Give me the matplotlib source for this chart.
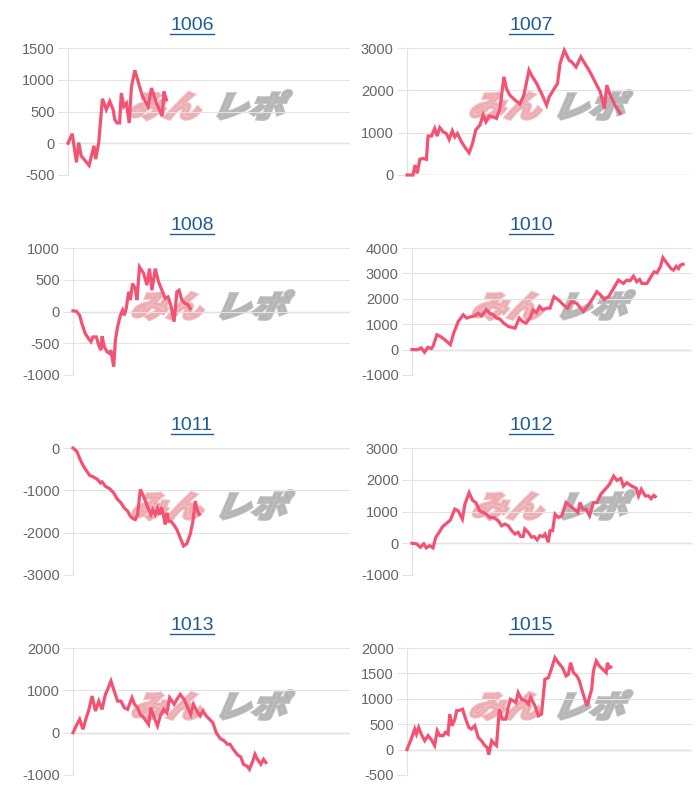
import matplotlib
matplotlib.use("Agg")
import matplotlib.pyplot as plt
import matplotlib.transforms as mtransforms
from matplotlib.textpath import TextPath
from matplotlib.patches import PathPatch
from matplotlib.font_manager import FontProperties
from matplotlib.lines import Line2D

plt.rcParams['font.family'] = ['Liberation Sans', 'DejaVu Sans']

# ---------------- data (x = position along the period, 0..100) ----------------
titles = ["1006", "1007", "1008", "1010", "1011", "1012", "1013", "1015"]

x_1006 = [0, 1.5, 3.0, 3.8, 4.7, 7.5, 9.2, 9.8, 10.9, 12.2, 13.6, 14.8, 16.0, 16.6, 17.4,
          18.3, 18.9, 19.8, 20.7, 21.7, 22.5, 23.7, 25.4, 26.4, 28.4, 29.6, 31.4, 33.4, 34.0, 34.9]
y_1006 = [0, 150, -300, 10, -200, -350, -40, -250, 10, 700, 530, 660, 530, 370, 320,
          320, 790, 580, 630, 320, 890, 1150, 890, 740, 580, 870, 630, 425, 815, 685]

x_1007 = [0, 2.1, 2.8, 3.6, 4.5, 5.6, 6.8, 7.4, 8.6, 9.7, 10.6, 11.5, 12.7, 13.8, 14.8,
          15.9, 16.8, 17.7, 19.1, 20.6, 21.8, 23.0, 24.1, 25.6, 26.7, 27.7, 28.8, 30.2, 31.4,
          32.6, 34.0, 34.9, 36.1, 37.9, 39.6, 41.0, 42.8, 43.7, 45.5, 47.2, 49.0, 49.9, 51.3,
          52.8, 53.7, 55.2, 56.9, 57.8, 59.3, 61.0, 62.8, 64.2, 66.0, 67.8, 69.3, 70.1, 71.3,
          73.0, 74.8]
y_1007 = [0, 0, 235, 40, 370, 390, 370, 920, 920, 1100, 920, 1120, 1020, 980, 840,
          1045, 900, 980, 785, 630, 525, 745, 1060, 1180, 1415, 1255, 1390, 1375, 1335,
          1570, 2320, 2040, 1885, 1770, 1675, 1885, 2475, 2355, 2160, 1925, 1650, 1845, 2000,
          2160, 2630, 2945, 2710, 2670, 2550, 2790, 2590, 2435, 2200, 1965, 1570, 2120, 1885,
          1650, 1455]

x_1008 = [0, 1.2, 2.4, 3.2, 4.4, 5.6, 6.5, 7.2, 8.4, 9.3, 10.1, 10.5, 11.3, 12.3, 13.2,
          13.7, 14.7, 15.3, 16.1, 17.1, 17.9, 18.5, 19.2, 20.1, 20.7, 21.5, 22.5, 23.1, 24.0,
          25.5, 26.7, 27.6, 28.5, 29.7, 30.9, 32.1, 33.3, 34.3, 35.3, 36.5, 37.5, 38.3, 39.3,
          40.5, 41.3, 42.3]
y_1008 = [10, 5, -60, -190, -345, -425, -475, -400, -400, -530, -610, -390, -555, -635, -660,
          -610, -870, -450, -240, -60, 20, -60, 45, 310, 180, 440, 360, 180, 700,
          600, 415, 675, 335, 675, 465, 335, 205, 230, 100, -160, 310, 335, 180,
          125, 115, 45]

x_1010 = [0, 2.1, 3.3, 4.5, 5.7, 6.9, 7.5, 8.9, 10.1, 11.7, 13.7, 14.9, 16.5, 18.3, 19.5,
          21.2, 22.4, 23.6, 24.8, 26.6, 27.8, 29.0, 30.2, 31.4, 32.8, 34.4, 35.9, 36.8, 38.3,
          39.5, 40.7, 42.1, 43.3, 44.5, 45.5, 46.7, 48.1, 49.3, 50.7, 52.3, 54.1, 55.5, 57.0,
          58.8, 61.2, 63.0, 64.6, 66.0, 67.4, 68.6, 70.2, 72.0, 73.7, 75.5, 76.7, 77.9, 79.1,
          80.3, 81.3, 82.1, 83.9, 85.7, 86.5, 87.5, 88.7, 89.6, 91.1, 92.5, 93.4, 94.4, 95.2,
          95.8, 96.8]
y_1010 = [0, 0, 65, -105, 90, 40, 130, 585, 520, 390, 195, 650, 1105, 1370, 1240,
          1300, 1330, 1430, 1330, 1565, 1430, 1370, 1240, 1200, 1040, 910, 870, 845, 1240,
          1105, 1040, 1240, 1565, 1460, 1695, 1565, 1630, 1630, 2085, 1955, 1760, 1630, 1890,
          1825, 1500, 1760, 2020, 2280, 2150, 1980, 2085, 2410, 2735, 2605, 2735, 2710, 2890,
          2670, 2760, 2605, 2605, 2930, 3060, 3020, 3260, 3620, 3390, 3190, 3130, 3280, 3190,
          3320, 3360]

x_1011 = [0, 1.4, 2.6, 3.8, 5.0, 6.0, 7.5, 8.9, 9.9, 10.5, 11.7, 13.2, 14.7, 15.9, 17.3,
          18.5, 19.7, 20.7, 21.6, 22.5, 23.3, 24.3, 25.2, 26.4, 27.3, 28.1, 28.8, 29.7, 30.5,
          31.2, 32.0, 32.7, 33.3, 33.9, 34.5, 35.3, 36.3, 37.5, 38.7, 39.9, 41.1, 42.3, 43.3,
          44.1, 45.0, 45.6]
y_1011 = [0, -80, -275, -430, -550, -645, -690, -745, -825, -800, -905, -960, -1060, -1200, -1295,
          -1415, -1490, -1610, -1665, -1690, -1570, -980, -1100, -1295, -1455, -1570, -1455, -1570, -1430,
          -1570, -1400, -1610, -1805, -1530, -1730, -1730, -1805, -1925, -2120, -2315, -2260, -2040, -1730,
          -1255, -1490, -1570]

x_1012 = [0, 1.6, 3.0, 4.2, 5.1, 6.3, 7.5, 8.5, 9.7, 10.9, 12.3, 13.7, 15.3, 16.5, 18.0,
          18.9, 20.4, 21.6, 22.8, 24.2, 25.4, 26.6, 27.8, 29.2, 30.8, 32.0, 33.2, 34.4, 35.6,
          36.8, 37.9, 38.8, 39.7, 40.3, 41.5, 42.7, 43.6, 44.7, 45.7, 46.7, 47.5, 48.7, 49.3,
          50.2, 51.1, 52.3, 53.5, 55.0, 56.4, 57.9, 59.2, 60.0, 61.0, 62.2, 63.4, 64.8, 66.0,
          67.4, 69.0, 70.5, 72.0, 73.2, 74.6, 75.5, 76.7, 78.5, 80.1, 80.9, 81.9, 83.3, 84.5,
          85.4, 86.3, 86.9]
y_1012 = [0, -20, -125, -20, -145, -75, -145, 190, 345, 520, 625, 730, 1075, 1020, 760,
          1230, 1595, 1355, 1280, 1020, 970, 915, 810, 810, 710, 550, 605, 550, 395,
          290, 345, 210, 210, 450, 345, 190, 210, 105, 240, 210, 290, 30, 395,
          395, 915, 810, 865, 1280, 1180, 1075, 970, 1280, 1075, 1075, 865, 1280, 1280,
          1540, 1700, 1855, 2115, 1980, 2040, 1800, 1905, 1800, 1730, 1490, 1700, 1490, 1490,
          1405, 1510, 1470]

x_1013 = [0, 1.4, 2.4, 3.6, 4.8, 5.6, 6.9, 8.1, 9.3, 10.5, 11.7, 12.5, 13.7, 14.9, 16.1,
          17.3, 18.5, 19.7, 21.3, 22.2, 23.3, 24.3, 25.5, 27.3, 28.1, 29.3, 30.5, 31.5, 32.7,
          33.9, 34.9, 36.5, 37.5, 38.7, 40.1, 41.7, 42.5, 43.5, 44.7, 45.9, 46.9, 48.1, 49.3,
          50.5, 51.7, 53.1, 54.6, 55.8, 56.7, 57.9, 59.4, 60.6, 61.5, 63.0, 63.7, 64.9, 65.7,
          66.6, 67.8, 68.8, 69.6]
y_1013 = [0, 195, 315, 80, 355, 510, 865, 510, 745, 550, 905, 1020, 1220, 980, 745,
          745, 590, 550, 825, 670, 590, 430, 355, 195, 590, 355, 160, 395, 550,
          470, 825, 670, 785, 905, 785, 550, 430, 670, 510, 395, 510, 395, 315,
          235, 0, -135, -195, -275, -275, -395, -525, -575, -745, -800, -865, -670, -510,
          -630, -745, -630, -705]

x_1015 = [0, 1.5, 2.7, 3.3, 4.1, 5.0, 6.2, 7.4, 8.6, 9.7, 10.6, 11.5, 12.7, 13.5, 14.4,
          15.0, 15.8, 16.8, 17.4, 18.5, 19.5, 20.6, 21.7, 22.6, 23.8, 25.0, 26.1, 27.3, 28.1,
          28.7, 29.7, 30.5, 31.4, 32.4, 33.4, 34.7, 35.5, 36.3, 37.3, 38.2, 39.0, 40.2, 41.7,
          42.6, 43.4, 44.9, 46.1, 47.2, 48.4, 49.6, 50.8, 51.9, 53.1, 54.6, 55.8, 56.6, 57.4,
          58.4, 59.6, 60.5, 61.3, 63.1, 64.0, 64.8, 65.4, 66.4, 67.5, 68.7, 69.9, 70.3, 71.0,
          71.5]
y_1015 = [0, 210, 405, 305, 435, 305, 175, 275, 190, 80, 370, 275, 275, 340, 305,
          700, 470, 600, 765, 775, 795, 600, 435, 405, 470, 240, 175, 80, 45,
          -100, 175, 125, 80, 795, 600, 600, 830, 990, 960, 925, 1120, 990, 960,
          895, 1025, 860, 665, 700, 1385, 1415, 1610, 1810, 1710, 1610, 1450, 1480, 1710,
          1515, 1450, 1350, 1190, 860, 1025, 1190, 1545, 1745, 1645, 1580, 1515, 1710, 1610,
          1625]

xs = [x_1006, x_1007, x_1008, x_1010, x_1011, x_1012, x_1013, x_1015]
ys = [y_1006, y_1007, y_1008, y_1010, y_1011, y_1012, y_1013, y_1015]

y_ticks = [
    [-500, 0, 500, 1000, 1500],
    [0, 1000, 2000, 3000],
    [-1000, -500, 0, 500, 1000],
    [-1000, 0, 1000, 2000, 3000, 4000],
    [-3000, -2000, -1000, 0],
    [-1000, 0, 1000, 2000, 3000],
    [-1000, 0, 1000, 2000],
    [-500, 0, 500, 1000, 1500, 2000],
]

# ---------------- layout (pixels) ----------------
W, H = 700, 800
axis_left_px = [68, 407, 73, 412, 73, 412, 73, 407]
col_right_px = [350, 692]
title_x_px = [192, 531]

LINE_COLOR = '#f35273'
GRID_COLOR = '#e3e3e3'
ZERO_COLOR = '#b3b3b3'
TICK_LABEL_COLOR = '#666666'
TITLE_COLOR = '#1f5c96'

fig = plt.figure(figsize=(W / 100, H / 100), dpi=100)
fig.patch.set_facecolor('white')

wm_fp = FontProperties(family=['Noto Sans CJK JP'], weight='heavy')

title_texts = []
for i, name in enumerate(titles):
    row, col = divmod(i, 2)
    top = 48 + 200 * row
    bot = 175 + 200 * row
    left = axis_left_px[i]
    right = col_right_px[col]
    ax = fig.add_axes([left / W, 1 - bot / H, (right - left) / W, (bot - top) / H])

    ticks = y_ticks[i]
    ax.set_ylim(ticks[0], ticks[-1])
    ax.set_xlim(0, 100)
    ax.set_yticks(ticks)
    ax.set_yticklabels([str(t) for t in ticks])
    ax.set_xticks([])
    ax.grid(axis='y', color=GRID_COLOR, linewidth=0.8, zorder=0)
    ax.axhline(0, color=ZERO_COLOR, linewidth=0.9, zorder=1)
    for s in ['top', 'right', 'bottom']:
        ax.spines[s].set_visible(False)
    ax.spines['left'].set_color(GRID_COLOR)
    ax.spines['left'].set_linewidth(0.8)
    ax.tick_params(axis='y', length=7, width=0.8, color=GRID_COLOR, pad=2.5,
                   labelsize=10.5, labelcolor=TICK_LABEL_COLOR)
    for t, tk in zip(ticks, ax.yaxis.get_major_ticks()):
        if t == 0:
            tk.tick1line.set_color(ZERO_COLOR)

    # watermark logo (behind the line)
    anchor = mtransforms.ScaledTranslation(0.5, 0.47, ax.transAxes)
    p1 = TextPath((0, 0), "みん", size=36, prop=wm_fp)
    p2 = TextPath((0, 0), "レポ", size=36, prop=wm_fp)
    tr1 = mtransforms.Affine2D().skew_deg(20, 0).scale(1.0, 0.85).translate(-82, -2) + anchor
    tr2 = mtransforms.Affine2D().skew_deg(20, 0).scale(1.0, 0.85).translate(2, -2) + anchor
    ax.add_patch(PathPatch(p1, transform=tr1, facecolor='#eba3aa', edgecolor='#eba3aa',
                           linewidth=2.2, alpha=0.75, zorder=1.5, clip_on=False))
    ax.add_patch(PathPatch(p2, transform=tr2, facecolor='#b2b2b2', edgecolor='#b2b2b2',
                           linewidth=2.2, alpha=0.85, zorder=1.5, clip_on=False))

    ax.plot(xs[i], ys[i], color=LINE_COLOR, linewidth=2.3, solid_joinstyle='miter',
            zorder=3, clip_on=False)

    tx = title_x_px[col]
    ty = 25 + 200 * row
    t = fig.text(tx / W, 1 - ty / H, name, ha='center', va='center', fontsize=14,
                 color=TITLE_COLOR)
    title_texts.append((t, ty))

fig.canvas.draw()
renderer = fig.canvas.get_renderer()
for t, ty in title_texts:
    bb = t.get_window_extent(renderer)
    yu = 1 - (ty + 8.5) / H
    fig.add_artist(Line2D([bb.x0 / W, bb.x1 / W], [yu, yu], transform=fig.transFigure,
                          color=TITLE_COLOR, linewidth=1.0))

fig.savefig("out.png", dpi=100, facecolor='white')
